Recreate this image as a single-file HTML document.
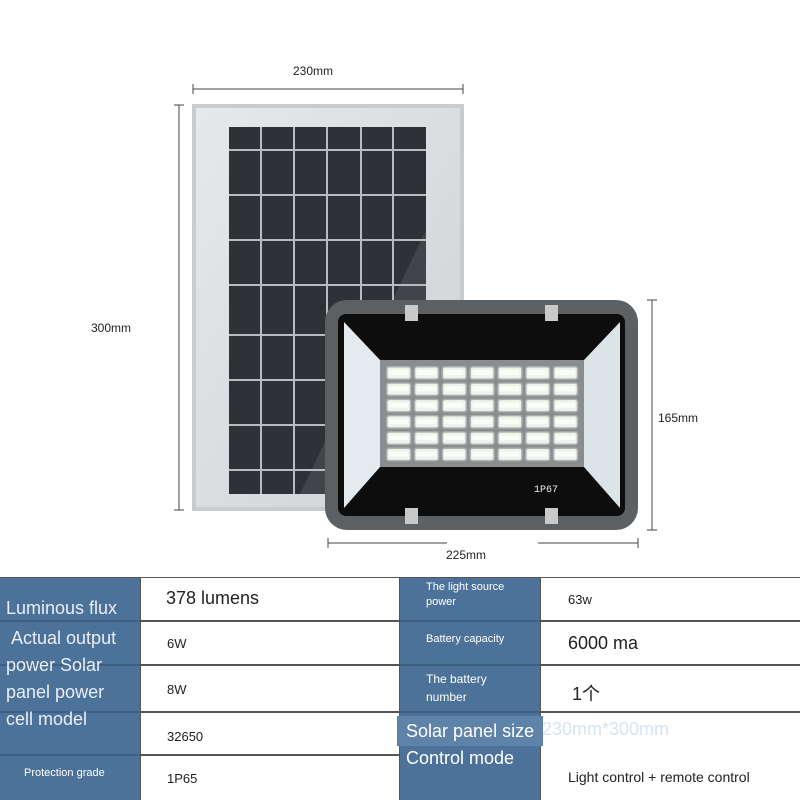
<!DOCTYPE html>
<html><head><meta charset="utf-8"><style>
body{margin:0;width:800px;height:800px;background:#fff;overflow:hidden;position:relative;font-family:"Liberation Sans","Noto Sans CJK SC",sans-serif}
svg{position:absolute;left:0;top:0}
.t{position:absolute;font-size:12px;color:#222}
.c{position:absolute;box-sizing:border-box}
.lb{background:#4d7299;color:#fff}
.v{background:#fff;color:#111}
</style></head><body>
<svg width="800" height="580" viewBox="0 0 800 580">
<defs>
<linearGradient id="fr" x1="0" y1="0" x2="1" y2="1"><stop offset="0" stop-color="#e6e8ea"/><stop offset="1" stop-color="#cfd2d5"/></linearGradient>
<pattern id="ledp" x="385" y="365" width="27.8" height="16.3" patternUnits="userSpaceOnUse">
<rect x="1" y="1" width="25.5" height="14" rx="3" fill="#a9aeaf"/>
<rect x="2.5" y="2.5" width="22.5" height="11" rx="2" fill="#eef3ec"/>
<rect x="4" y="5" width="19" height="5" fill="#fbfdf8"/>
</pattern>
</defs>
<g stroke="#444" stroke-width="1">
<line x1="193" y1="89" x2="463" y2="89"/><line x1="193" y1="84" x2="193" y2="94"/><line x1="463" y1="84" x2="463" y2="94"/>
<line x1="179" y1="105" x2="179" y2="510"/><line x1="174" y1="105" x2="184" y2="105"/><line x1="174" y1="510" x2="184" y2="510"/>
<line x1="652" y1="300" x2="652" y2="530"/><line x1="647" y1="300" x2="657" y2="300"/><line x1="647" y1="530" x2="657" y2="530"/>
<line x1="328" y1="543" x2="447" y2="543"/><line x1="538" y1="543" x2="638" y2="543"/><line x1="328" y1="538" x2="328" y2="548"/><line x1="638" y1="538" x2="638" y2="548"/>
</g>
<rect x="192" y="104" width="272" height="407" fill="#c9cccf"/>
<rect x="196" y="108" width="264" height="399" fill="url(#fr)"/>
<rect x="229" y="127" width="197" height="367" fill="#2f3136"/>
<polygon points="426,230 426,494 300,494" fill="#4a4d52" opacity="0.7"/>
<g stroke="#b9bcbf" stroke-width="2">
<line x1="229" y1="150" x2="426" y2="150"/><line x1="229" y1="195" x2="426" y2="195"/><line x1="229" y1="240" x2="426" y2="240"/><line x1="229" y1="285" x2="426" y2="285"/><line x1="229" y1="335" x2="426" y2="335"/><line x1="229" y1="380" x2="426" y2="380"/><line x1="229" y1="425" x2="426" y2="425"/><line x1="229" y1="470" x2="426" y2="470"/>
<line x1="261" y1="127" x2="261" y2="494"/><line x1="294" y1="127" x2="294" y2="494"/><line x1="327" y1="127" x2="327" y2="494"/><line x1="361" y1="127" x2="361" y2="494"/><line x1="393" y1="127" x2="393" y2="494"/>
</g>
<rect x="325" y="300" width="313" height="230" rx="22" fill="#5d6063"/>
<rect x="338" y="314" width="287" height="202" rx="8" fill="#0d0d0e"/>
<polygon points="344,322 380,360 380,467 344,508" fill="#e4eaee"/>
<polygon points="620,322 584,360 584,467 620,508" fill="#dde4e8"/>
<rect x="380" y="360" width="204" height="107" fill="#8a8d8f"/>
<rect x="385" y="365" width="194.6" height="97.8" fill="url(#ledp)"/>
<text x="534" y="492" font-family="Liberation Mono, monospace" font-size="10" fill="#eee">1P67</text>
<rect x="405" y="305" width="13" height="16" fill="#c9c9c9"/><rect x="545" y="305" width="13" height="16" fill="#c9c9c9"/>
<rect x="405" y="508" width="13" height="16" fill="#c9c9c9"/><rect x="545" y="508" width="13" height="16" fill="#c9c9c9"/>
</svg>
<div class="t" style="left:293px;top:64px">230mm</div>
<div class="t" style="left:91px;top:321px">300mm</div>
<div class="t" style="left:658px;top:411px">165mm</div>
<div class="t" style="left:446px;top:548px">225mm</div>
<div class="c" style="left:0;top:577px;width:800px;height:223px;background:#555"></div>
<div class="c lb" style="left:0;top:578px;width:140px;height:222px"></div>
<div class="c lb" style="left:400px;top:578px;width:140px;height:222px"></div>
<div class="c v" style="left:141px;top:578px;width:258px;height:42px"></div>
<div class="c v" style="left:141px;top:622px;width:258px;height:42px"></div>
<div class="c v" style="left:141px;top:666px;width:258px;height:45px"></div>
<div class="c v" style="left:141px;top:713px;width:258px;height:41px"></div>
<div class="c v" style="left:141px;top:756px;width:258px;height:44px"></div>
<div class="c v" style="left:541px;top:578px;width:259px;height:42px"></div>
<div class="c v" style="left:541px;top:622px;width:259px;height:42px"></div>
<div class="c v" style="left:541px;top:666px;width:259px;height:45px"></div>
<div class="c v" style="left:541px;top:713px;width:259px;height:87px"></div>
<div class="c" style="left:0;top:620px;width:140px;height:2px;background:#3e5f82"></div>
<div class="c" style="left:0;top:664px;width:140px;height:2px;background:#3e5f82"></div>
<div class="c" style="left:0;top:711px;width:140px;height:2px;background:#3e5f82"></div>
<div class="c" style="left:0;top:754px;width:140px;height:2px;background:#3e5f82"></div>
<div class="c" style="left:400px;top:620px;width:140px;height:2px;background:#3e5f82"></div>
<div class="c" style="left:400px;top:664px;width:140px;height:2px;background:#3e5f82"></div>
<div class="c" style="left:400px;top:711px;width:140px;height:2px;background:#3e5f82"></div>
<div class="c" style="left:397px;top:716px;width:146px;height:30px;background:#5f82a8"></div>
<div class="t" style="left:6px;top:598px;font-size:18px;color:#e8eef5">Luminous flux</div>
<div class="t" style="left:6px;top:625px;font-size:18px;color:#e8eef5;line-height:27px;width:122px">&nbsp;Actual output power Solar panel power cell model</div>
<div class="t" style="left:24px;top:767px;font-size:11px;color:#fff">Protection grade</div>
<div class="t" style="left:166px;top:588px;font-size:18px">378 lumens</div>
<div class="t" style="left:167px;top:636px;font-size:13px">6W</div>
<div class="t" style="left:167px;top:682px;font-size:13px">8W</div>
<div class="t" style="left:167px;top:729px;font-size:13px">32650</div>
<div class="t" style="left:167px;top:771px;font-size:13px">1P65</div>
<div class="t" style="left:426px;top:580px;font-size:11px;color:#fff;line-height:15px">The light source<br>power</div>
<div class="t" style="left:426px;top:633px;font-size:11px;color:#fff">Battery capacity</div>
<div class="t" style="left:426px;top:670px;font-size:12px;color:#fff;line-height:18px">The battery<br>number</div>
<div class="t" style="left:406px;top:718px;font-size:18px;color:#fff;line-height:27px">Solar panel size<br>Control mode</div>
<div class="t" style="left:542px;top:719px;font-size:18px;color:#d4e4f4">230mm*300mm</div>
<div class="t" style="left:568px;top:592px;font-size:13px">63w</div>
<div class="t" style="left:568px;top:633px;font-size:18px">6000 ma</div>
<div class="t" style="left:572px;top:680px;font-size:18px">1个</div>
<div class="t" style="left:568px;top:769px;font-size:14px">Light control + remote control</div>
</body></html>
